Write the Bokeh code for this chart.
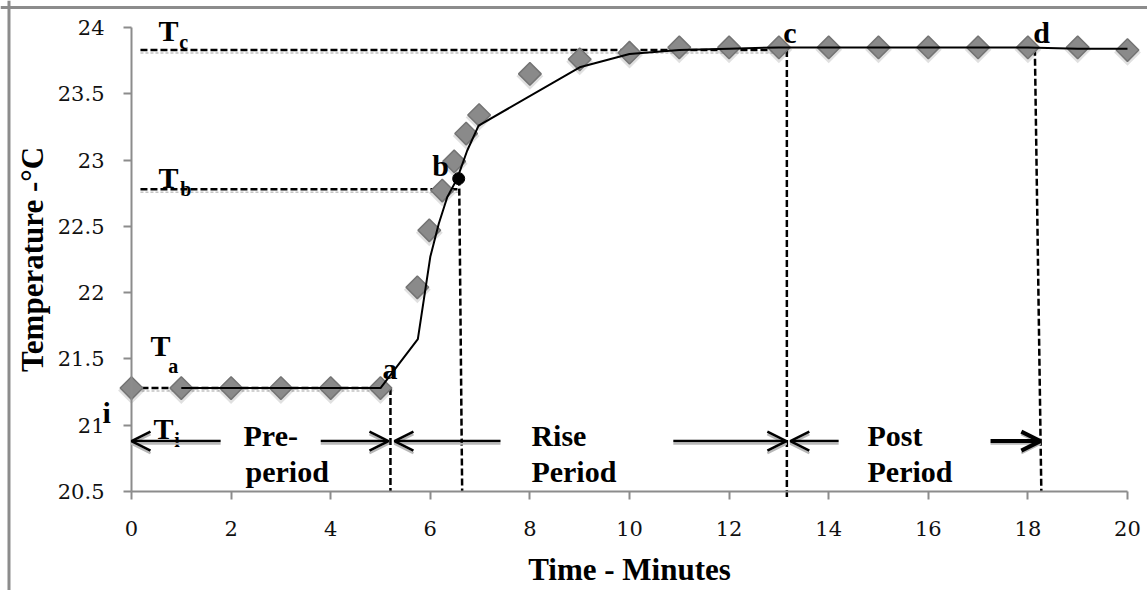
import numpy as np
from bokeh.plotting import figure
from bokeh.models import Range1d, FixedTicker, NumeralTickFormatter, Span, Arrow, OpenHead, ColumnDataSource
from bokeh.core.properties import value
from bokeh.embed import file_html
from bokeh.resources import INLINE

# ---------------- data ----------------
time_obs = [0, 1, 2, 3, 4, 5, 5.74, 5.98, 6.24, 6.48, 6.72, 6.98, 8, 9, 10, 11, 12, 13, 14, 15, 16, 17, 18, 19, 20]
temp_obs = [21.28, 21.28, 21.28, 21.28, 21.28, 21.28, 22.04, 22.47, 22.77, 22.99, 23.20, 23.34, 23.65, 23.76,
            23.81, 23.85, 23.85, 23.85, 23.85, 23.85, 23.85, 23.85, 23.85, 23.85, 23.83]

time_fit = [1, 2, 3, 4, 5, 5.75, 6.0, 6.17, 6.34, 6.54, 6.74, 6.97, 9.0, 10, 11, 12, 13, 14, 15, 16, 17, 18, 19, 20]
temp_fit = [21.28, 21.28, 21.28, 21.28, 21.28, 21.65, 22.27, 22.52, 22.72, 22.86, 23.07, 23.26, 23.70, 23.80,
            23.83, 23.84, 23.85, 23.85, 23.85, 23.85, 23.85, 23.85, 23.84, 23.84]

# characteristic points
point_b = (6.57, 22.86)
h_ref_x0 = [0.18, 0.18, 0.0]
h_ref_x1 = [13.16, 6.57, 5.2]
h_ref_y = [23.83, 22.78, 21.28]
v_ref_x0 = [5.2, 6.58, 13.16, 18.14]
v_ref_y0 = [21.28, 22.86, 23.83, 23.84]
v_ref_x1 = [5.2, 6.64, 13.16, 18.27]
v_ref_y1 = [20.5, 20.5, 20.45, 20.5]

# period arrows (x_start -> x_end, head at end)
arrow_y = 20.88
arrow_x_start = [1.79, 3.80, 7.41, 10.88, 14.20, 17.25]
arrow_x_end = [0.0, 5.16, 5.28, 13.15, 13.23, 18.25]

# annotation texts
big_text = ["T", "T", "T", "T", "i", "a", "b", "c", "d", "Pre-", "period", "Rise", "Period", "Post", "Period"]
big_x = [0.54, 0.54, 0.38, 0.44, -0.58, 5.04, 6.04, 13.09, 18.11, 2.25, 2.29, 8.03, 8.03, 14.78, 14.78]
big_y = [23.977, 22.869, 21.601, 20.975, 21.096, 21.428, 22.959, 23.962, 23.962, 20.922, 20.651, 20.922, 20.651,
         20.922, 20.651]
sub_text = ["c", "b", "a", "i"]
sub_x = [0.96, 0.98, 0.74, 0.86]
sub_y = [23.887, 22.778, 21.443, 20.885]

x_ticks = [0, 2, 4, 6, 8, 10, 12, 14, 16, 18, 20]
y_ticks = [20.5, 21, 21.5, 22, 22.5, 23, 23.5, 24]

# ---------------- figure ----------------
W, H = 1147, 590
p = figure(width=W, height=H, output_backend="svg", toolbar_location=None,
           x_range=Range1d(-2.6305, 20.402), y_range=Range1d(19.753, 24.2037),
           min_border=0, min_border_left=0, min_border_right=0, min_border_top=0, min_border_bottom=0)
p.outline_line_color = None
p.grid.visible = False
p.background_fill_color = "white"
p.border_fill_color = "white"

GRAY = "#8c8c8c"
for ax in (p.xaxis[0], p.yaxis[0]):
    ax.axis_line_color = GRAY
    ax.axis_line_width = 2
    ax.major_tick_line_color = GRAY
    ax.major_tick_line_width = 2
    ax.major_tick_out = 8
    ax.major_tick_in = 0
    ax.minor_tick_line_color = None
    ax.major_label_text_font = "DejaVu Serif"
    ax.major_label_text_font_size = "21px"
    ax.major_label_text_color = "#111111"
    ax.axis_label_text_font = "Liberation Serif"
    ax.axis_label_text_font_style = "bold"
    ax.axis_label_text_font_size = "31px"
    ax.axis_label_text_color = "black"

p.xaxis.fixed_location = 20.5
p.xaxis.bounds = (0, 20)
p.xaxis.ticker = FixedTicker(ticks=x_ticks)
p.xaxis.major_label_standoff = 22
p.xaxis.axis_label = "Time - Minutes"
p.xaxis.axis_label_standoff = 12

p.yaxis.fixed_location = 0
p.yaxis.bounds = (20.5, 24)
p.yaxis.ticker = FixedTicker(ticks=y_ticks)
p.yaxis.formatter = NumeralTickFormatter(format="0.[0]")
p.yaxis.major_label_standoff = 19
p.yaxis.axis_label = "Temperature -°C"
p.yaxis.axis_label_standoff = 5

# outer chart-area border (left and top)
p.add_layout(Span(location=-2.46, dimension="height", line_color=GRAY, line_width=3))
p.add_layout(Span(location=24.151, dimension="width", line_color=GRAY, line_width=3))

# dashed reference lines with faint shadow
shadow_dy = 0.022
p.segment(x0=h_ref_x0, y0=[v - shadow_dy for v in h_ref_y], x1=h_ref_x1, y1=[v - shadow_dy for v in h_ref_y],
          line_color="#c4c4c4", line_width=1.5, line_dash="3 2")
p.segment(x0=h_ref_x0, y0=h_ref_y, x1=h_ref_x1, y1=h_ref_y, line_color="black", line_width=2.5, line_dash="7 3")
p.segment(x0=v_ref_x0, y0=v_ref_y0, x1=v_ref_x1, y1=v_ref_y1, line_color="black", line_width=2.5, line_dash="7 3")

# arrows
for xs, xe in zip(arrow_x_start, arrow_x_end):
    p.add_layout(Arrow(end=OpenHead(size=19, line_width=2.5, line_color="#b8b8b8"),
                       x_start=xs, y_start=arrow_y - 0.02, x_end=xe, y_end=arrow_y - 0.02,
                       line_color="#b8b8b8", line_width=2))
for i, (xs, xe) in enumerate(zip(arrow_x_start, arrow_x_end)):
    lw = 4 if i == len(arrow_x_start) - 1 else 2.5
    p.add_layout(Arrow(end=OpenHead(size=19, line_width=lw, line_color="black"),
                       x_start=xs, y_start=arrow_y, x_end=xe, y_end=arrow_y,
                       line_color="black", line_width=lw))

# observed diamonds (with soft shadow)
src = ColumnDataSource(dict(t=time_obs, v=temp_obs, vs=[v - 0.018 for v in temp_obs]))
p.scatter("t", "vs", source=src, marker="square", angle=np.pi / 4, size=19,
          fill_color="black", fill_alpha=0.12, line_color=None)
p.scatter("t", "v", source=src, marker="square", angle=np.pi / 4, size=16,
          fill_color="#8a8a8a", line_color="#747474", line_width=1.5)

# fitted line
p.line(time_fit, temp_fit, line_color="black", line_width=2)

# point b
p.scatter([point_b[0]], [point_b[1]], marker="circle", size=12, fill_color="black", line_color="black")

# texts
p.text(x=big_x, y=big_y, text=big_text, text_font=value("Liberation Serif"), text_font_style="bold",
       text_font_size="30px", text_align="left", text_baseline="alphabetic", text_color="black")
p.text(x=sub_x, y=sub_y, text=sub_text, text_font=value("Liberation Serif"), text_font_style="bold",
       text_font_size="20px", text_align="left", text_baseline="alphabetic", text_color="black")

open("out.html", "w").write(file_html(p, INLINE))
